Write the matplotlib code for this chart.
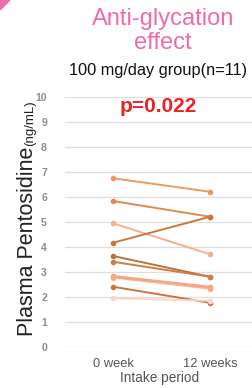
import matplotlib
matplotlib.use('Agg')
import matplotlib.pyplot as plt
from matplotlib.patches import Polygon

# data
periods = ['0 week', '12 weeks']
week0 = [6.75, 5.84, 4.95, 4.17, 3.64, 3.41, 2.84, 2.78, 2.41, 1.95, 2.80]
week12 = [6.21, 5.21, 3.71, 5.21, 2.81, 2.81, 2.41, 2.33, 1.77, 1.85, 2.38]
colors = ['#ef9a5c', '#e08a4c', '#f6ad92', '#c47b42', '#b87440', '#cc8048',
          '#f4a07e', '#f8b89c', '#c8773e', '#fbd6c8', '#f6a886']
yticks = list(range(0, 11))

W, H = 252, 388
fig = plt.figure(figsize=(W/100, H/100), dpi=100)

def px(x, y):
    return x / W, 1 - y / H

# axes spans x 65..252 px, y 97..347 px
ax = fig.add_axes([65/W, 1 - 347/H, (252-65)/W, 250/H])
ax.set_ylim(0, 10)
ax.set_xlim(-0.495, 1.433)
for s in ax.spines.values():
    s.set_visible(False)
ax.set_yticks(yticks)
ax.set_yticklabels([str(v) for v in yticks], color='#8c8c8c', fontsize=7.5,
                   fontweight='bold', family='Liberation Sans')
ax.tick_params(axis='y', length=0, pad=13)
ax.set_xticks([0, 1])
ax.set_xticklabels(periods, color='#555555', fontsize=9.3, family='Liberation Sans')
ax.tick_params(axis='x', length=0, pad=8)
ax.grid(axis='y', color='#dedede', linewidth=0.9)
ax.set_axisbelow(True)

for a, b, c in zip(week0, week12, colors):
    ax.plot([0, 1], [a, b], color=c, linewidth=1.4, marker='o', markersize=3,
            clip_on=False)

ax.text(0.47, 9.6, 'p=0.022', color='#ee2222', fontsize=15, fontweight='bold',
        ha='center', va='center', family='Liberation Sans')

# titles
pink = '#f06ca8'
fig.text(*px(163, 19), 'Anti-glycation', color=pink, fontsize=17,
         ha='center', va='center', family='Liberation Sans')
fig.text(*px(163, 43), 'effect', color=pink, fontsize=17,
         ha='center', va='center', family='Liberation Sans')
fig.text(*px(158, 71), '100 mg/day group(n=11)', color='#111111', fontsize=11.8,
         ha='center', va='center', family='Liberation Sans')
fig.text(*px(160, 378), 'Intake period', color='#555555', fontsize=9.8,
         ha='center', va='center', family='Liberation Sans')

# y label in two sizes
big = fig.text(*px(33, 336), 'Plasma Pentosidine', fontsize=15.5, color='#222222',
               rotation=90, rotation_mode='anchor', ha='left', va='baseline',
               family='Liberation Sans')
fig.canvas.draw()
bb = big.get_window_extent()
small = fig.text(33/W, (bb.y1 + 1) / H, '(ng/mL)', fontsize=9.5, color='#222222',
                 rotation=90, rotation_mode='anchor', ha='left', va='baseline',
                 family='Liberation Sans')

# corner decoration
fig.patches.append(Polygon([px(0, 0), px(10, 0), px(0, 10)], closed=True,
                           transform=fig.transFigure, color=pink))

fig.savefig('out.png', dpi=100)
